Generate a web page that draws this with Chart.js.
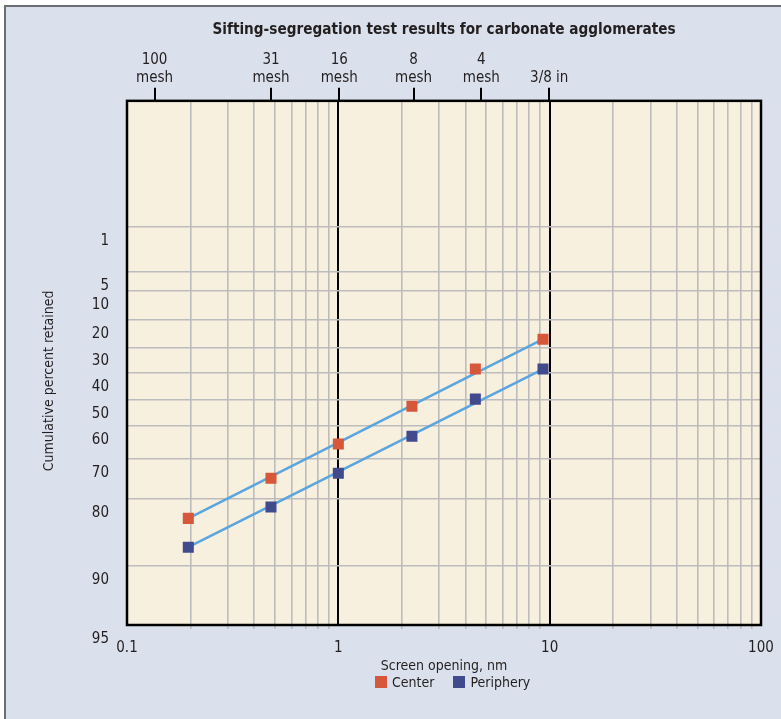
<!DOCTYPE html>
<html>
<head>
<meta charset="utf-8">
<script src="https://cdn.jsdelivr.net/npm/chart.js@4.4.1/dist/chart.umd.min.js"></script>
<style>
  html, body { margin: 0; padding: 0; background: #fff; overflow: hidden; }
  #frame {
    position: absolute; left: 4px; top: 5px; width: 800px; height: 800px;
    background: #dbe1ec; border-left: 2px solid #6d6e71; border-top: 2px solid #6d6e71;
  }
  #wrap { position: absolute; left: 0; top: 0; width: 781px; height: 719px; }
  #legend {
    position: absolute; left: 375px; top: 674px; display: flex; align-items: center;
    font: 14px "Liberation Sans Narrow", "DejaVu Sans Condensed", sans-serif; color: #231f20;
  }
  #legend .item { display: flex; align-items: center; margin-right: 19px; }
  #legend .box { width: 12px; height: 12px; margin-right: 5px; }
</style>
</head>
<body>
<div id="frame"></div>
<div id="wrap"><canvas id="myChart"></canvas></div>
<div id="legend"></div>
<script>
// screen opening of each sieve fraction
const screenOpening = [0.195, 0.48, 1.0, 2.23, 4.45, 9.3];
// cumulative percent retained
const centerRetained = [82.9, 74.8, 65.5, 52.4, 38.5, 27.0];
const peripheryRetained = [87.2, 81.2, 73.6, 63.1, 49.7, 38.5];

const seriesNames = ["Center", "Periphery"];
const seriesColors = ["#d6573a", "#404a8c"];
const fitLineColor = "#5aa5de";

// top axis: sieve sizes
const meshSizes = [0.135, 0.48, 1.01, 2.27, 4.75, 9.95];
const meshLabels = [["100", "mesh"], ["31", "mesh"], ["16", "mesh"], ["8", "mesh"], ["4", "mesh"], ["3/8 in"]];

// bottom axis
const xDecades = [0.1, 1, 10, 100];
const xDecadeLabels = ["0.1", "1", "10", "100"];

// left axis: percent ticks and where the paper puts them (0 = bottom, 1 = top)
const yTicks = [1, 5, 10, 20, 30, 40, 50, 60, 70, 80, 90, 95];
const yTickHeight = [0.7595, 0.6737, 0.6374, 0.5821, 0.5296, 0.4809, 0.4294, 0.3798, 0.3168, 0.2405, 0.1126, 0];

const textColor = "#231f20";
const gridGray = "#bcbcbc";
const fontFamily = '"Liberation Sans Narrow", "DejaVu Sans Condensed", sans-serif';

function percentToHeight(v) {
  if (v <= yTicks[0]) {
    return yTickHeight[0] + (yTicks[0] - v) * (yTickHeight[0] - yTickHeight[1]) / (yTicks[1] - yTicks[0]);
  }
  for (let i = 1; i < yTicks.length; i++) {
    if (v <= yTicks[i]) {
      const t = (v - yTicks[i - 1]) / (yTicks[i] - yTicks[i - 1]);
      return yTickHeight[i - 1] + t * (yTickHeight[i] - yTickHeight[i - 1]);
    }
  }
  return 0;
}

// probability-paper style axis: percent in, pixel out
class RetainedScale extends Chart.LinearScale {
  getPixelForValue(value) {
    if (value === null || isNaN(value)) return NaN;
    return this.getPixelForDecimal(percentToHeight(value));
  }
}
RetainedScale.id = "retained";
RetainedScale.defaults = {};
Chart.register(RetainedScale);

const isDecade = (v) => Math.abs(Math.log10(v) - Math.round(Math.log10(v))) < 1e-6;

// all log grid values 0.1, 0.2 ... 100
const xGridValues = [];
for (let d = 0.1; d < 50; d *= 10) {
  for (let k = 1; k <= 9; k++) xGridValues.push(+(d * k).toPrecision(3));
}
xGridValues.push(100);

const points = (xs, ys) => xs.map((x, i) => ({ x: x, y: ys[i] }));
const endPoints = (xs, ys) => [
  { x: xs[0], y: ys[0] },
  { x: xs[xs.length - 1], y: ys[ys.length - 1] },
];

// keep the label overhang from shrinking the plot
const noSidePadding = (scale) => {
  scale.paddingLeft = 0;
  scale.paddingRight = 0;
};

const plotFrame = {
  id: "plotFrame",
  beforeDraw(chart) {
    const { ctx, chartArea: a } = chart;
    ctx.save();
    ctx.fillStyle = "#f8f0df";
    ctx.fillRect(a.left, a.top, a.width, a.height);
    ctx.restore();
  },
  beforeDatasetsDraw(chart) {
    const { ctx, chartArea: a } = chart;
    ctx.save();
    ctx.strokeStyle = "#000";
    ctx.lineWidth = 2.5;
    ctx.strokeRect(a.left, a.top, a.width, a.height);
    ctx.restore();
  },
  afterDraw(chart) {
    // y axis title sits a bit below the middle of the plot in the original
    const { ctx, chartArea: a } = chart;
    ctx.save();
    ctx.translate(a.left - 78, (a.top + a.bottom) / 2 + 18);
    ctx.rotate(-Math.PI / 2);
    ctx.font = "14px " + fontFamily;
    ctx.fillStyle = textColor;
    ctx.textAlign = "center";
    ctx.textBaseline = "middle";
    ctx.fillText("Cumulative percent retained", 0, 0);
    ctx.restore();
  },
};

Chart.defaults.font.family = fontFamily;
Chart.defaults.color = textColor;

const ctx = document.getElementById("myChart").getContext("2d");
const myChart = new Chart(ctx, {
  type: "scatter",
  data: {
    datasets: [
      {
        label: seriesNames[0],
        data: points(screenOpening, centerRetained),
        backgroundColor: seriesColors[0],
        pointStyle: "rect",
        pointRadius: 7.8,
        pointBorderWidth: 0,
        showLine: false,
        order: 0,
      },
      {
        label: seriesNames[1],
        data: points(screenOpening, peripheryRetained),
        backgroundColor: seriesColors[1],
        pointStyle: "rect",
        pointRadius: 7.8,
        pointBorderWidth: 0,
        showLine: false,
        order: 0,
      },
      {
        label: "center fit",
        data: endPoints(screenOpening, centerRetained),
        borderColor: fitLineColor,
        borderWidth: 2.5,
        pointRadius: 0,
        showLine: true,
        order: 1,
      },
      {
        label: "periphery fit",
        data: endPoints(screenOpening, peripheryRetained),
        borderColor: fitLineColor,
        borderWidth: 2.5,
        pointRadius: 0,
        showLine: true,
        order: 1,
      },
    ],
  },
  options: {
    responsive: true,
    maintainAspectRatio: false,
    animation: false,
    events: [],
    layout: { padding: { top: 12, right: 20, bottom: 44.6, left: 0 } },
    plugins: {
      legend: { display: false },
      tooltip: { enabled: false },
      title: {
        display: true,
        fullSize: false,
        text: "Sifting-segregation test results for carbonate agglomerates",
        color: textColor,
        font: { size: 15.2, weight: "bold" },
        lineHeight: 1.2,
        padding: { top: 9, bottom: 5 },
      },
    },
    scales: {
      x: {
        type: "logarithmic",
        position: "bottom",
        min: 0.1,
        max: 100,
        afterBuildTicks: (scale) => {
          scale.ticks = xGridValues.map((v) => ({ value: v }));
        },
        afterFit: (scale) => {
          scale.height = 49.4;
          noSidePadding(scale);
        },
        ticks: {
          autoSkip: false,
          maxRotation: 0,
          padding: 10,
          font: { size: 15 },
          callback: (value) => {
            const i = xDecades.findIndex((d) => Math.abs(d - value) < 1e-9);
            return i >= 0 ? xDecadeLabels[i] : "";
          },
        },
        grid: {
          color: (c) => (isDecade(c.tick.value) ? "#000" : gridGray),
          lineWidth: (c) => (isDecade(c.tick.value) ? 2 : 1.6),
          tickColor: (c) => (isDecade(c.tick.value) ? "rgba(0,0,0,0)" : gridGray),
          tickLength: 4,
        },
        border: { display: false },
        title: {
          display: true,
          text: "Screen opening, nm",
          color: textColor,
          font: { size: 14 },
          padding: 0,
        },
      },
      x2: {
        type: "logarithmic",
        position: "top",
        min: 0.1,
        max: 100,
        afterBuildTicks: (scale) => {
          scale.ticks = meshSizes.map((v) => ({ value: v }));
        },
        afterFit: (scale) => {
          scale.height = 56.6;
          noSidePadding(scale);
        },
        ticks: {
          autoSkip: false,
          maxRotation: 0,
          padding: 1,
          font: { size: 15 },
          callback: (value, index) => meshLabels[index],
        },
        grid: {
          drawOnChartArea: false,
          color: "#000",
          lineWidth: 2,
          tickLength: 13,
        },
        border: { display: false },
      },
      y: {
        type: "retained",
        position: "left",
        min: 0,
        max: 100,
        afterBuildTicks: (scale) => {
          scale.ticks = yTicks.map((v) => ({ value: v }));
        },
        afterFit: (scale) => {
          scale.width = 127;
        },
        ticks: {
          autoSkip: false,
          padding: 18,
          labelOffset: 14,
          font: { size: 15 },
          callback: (value) => String(value),
        },
        grid: {
          color: gridGray,
          lineWidth: 1.6,
          drawTicks: false,
        },
        border: { display: false },
      },
    },
  },
  plugins: [plotFrame],
});

// legend under the axis title
const legendEl = document.getElementById("legend");
seriesNames.forEach((name, i) => {
  const item = document.createElement("div");
  item.className = "item";
  const box = document.createElement("span");
  box.className = "box";
  box.style.background = seriesColors[i];
  const label = document.createElement("span");
  label.textContent = name;
  item.appendChild(box);
  item.appendChild(label);
  legendEl.appendChild(item);
});
</script>
</body>
</html>
